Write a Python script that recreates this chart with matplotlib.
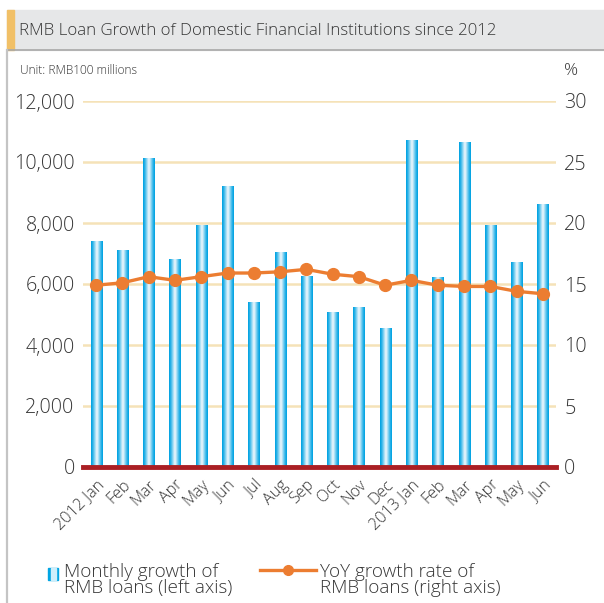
import numpy as np
import matplotlib.pyplot as plt
from matplotlib.patches import Rectangle
from matplotlib.lines import Line2D

plt.rcParams['font.family'] = ['Open Sans', 'DejaVu Sans']
plt.rcParams['font.weight'] = 'light'

months = ['2012 Jan', 'Feb', 'Mar', 'Apr', 'May', 'Jun', 'Jul', 'Aug', 'Sep',
          'Oct', 'Nov', 'Dec', '2013 Jan', 'Feb', 'Mar', 'Apr', 'May', 'Jun']
monthly_growth = [7381, 7107, 10114, 6818, 7932, 9198, 5401, 7039, 6232,
                  5056, 5229, 4543, 10721, 6200, 10625, 7929, 6694, 8605]
yoy_rate = [14.9, 15.1, 15.6, 15.3, 15.6, 15.9, 15.9, 16.0, 16.2,
            15.8, 15.6, 14.9, 15.3, 14.9, 14.8, 14.8, 14.4, 14.2]
left_ticks = [0, 2000, 4000, 6000, 8000, 10000, 12000]
right_ticks = [0, 5, 10, 15, 20, 25, 30]

TXT = '#363636'
W, H = 604, 603
fig = plt.figure(figsize=(W / 100, H / 100), dpi=100)

def fx(px):
    return px / W

def fy(py):
    return 1 - py / H

# header band with orange tab, and frame lines
fig.patches.append(Rectangle((fx(7), fy(50)), 1 - fx(7), fy(10) - fy(50),
                             transform=fig.transFigure, color='#e6e7e8', zorder=0))
fig.patches.append(Rectangle((fx(7), fy(50)), fx(7), fy(10) - fy(50),
                             transform=fig.transFigure, color='#f1c067', zorder=1))
fig.lines.append(Line2D([fx(7), 1], [fy(50), fy(50)], transform=fig.transFigure,
                        color='#a8a8a8', lw=1.2))
fig.lines.append(Line2D([fx(7), fx(7)], [fy(50), 0], transform=fig.transFigure,
                        color='#c4c4c4', lw=1.6))
fig.text(fx(19), fy(31), 'RMB Loan Growth of Domestic Financial Institutions since 2012',
         fontsize=12.2, color=TXT, va='center', ha='left')
fig.text(fx(20), fy(71), 'Unit: RMB100 millions', fontsize=8.6, color=TXT,
         va='center', ha='left')
fig.text(fx(564), fy(71), '%', fontsize=12.5, color=TXT, va='center', ha='left')

ax = fig.add_axes([fx(83), fy(467), fx(556) - fx(83), fy(101) - fy(467)])
ax2 = ax.twinx()

x = np.arange(len(months))
bars = ax.bar(x, monthly_growth, width=0.42, color='#00a5e3', zorder=2)

# white-centred blue gradient inside each bar
t = np.linspace(-1, 1, 64)
w = np.clip(1 - np.abs(t) ** 1.3, 0, 1) ** 1.6
blue = np.array([0.0, 0.64, 0.89])
white = np.array([0.93, 0.97, 0.99])
grad = (blue[None, :] * (1 - w[:, None]) + white[None, :] * w[:, None])[None, :, :]
for p in bars:
    x0, y0 = p.get_x(), p.get_y()
    ax.imshow(grad, extent=[x0, x0 + p.get_width(), y0, y0 + p.get_height()],
              aspect='auto', interpolation='bilinear', zorder=2.5)

ax.set_xlim(-0.5, len(months) - 0.5)
ax.set_ylim(0, 12000)
ax.set_yticks(left_ticks)
ax.set_yticklabels([f'{v:,}' for v in left_ticks])
for v in left_ticks[1:]:
    ax.axhline(v, color='#f5e2b8', lw=1.8, zorder=1)
ax.axhline(0, color='#aa1f24', lw=3.5, zorder=4, clip_on=False)

ax2.plot(x, yoy_rate, color='#ec7d31', lw=2.4, marker='o', markersize=8.5,
         zorder=5)
ax2.set_ylim(0, 30)
ax2.set_yticks(right_ticks)
ax2.set_xlim(-0.5, len(months) - 0.5)

ax.set_xticks(x)
ax.set_xticklabels(months, rotation=45, ha='right', rotation_mode='anchor')
for a in (ax, ax2):
    for s in a.spines.values():
        s.set_visible(False)
    a.tick_params(length=0, colors=TXT)
ax.tick_params(axis='y', labelsize=14.2, pad=6)
ax2.tick_params(axis='y', labelsize=14.2, pad=6)
ax.tick_params(axis='x', labelsize=11.6, pad=7)

# legend
fig.patches.append(Rectangle((fx(48), fy(580)), fx(10), fy(568) - fy(580),
                             transform=fig.transFigure, color='#00a5e3'))
fig.patches.append(Rectangle((fx(51), fy(580)), fx(5), fy(568) - fy(580),
                             transform=fig.transFigure, color='#cdeefb'))
fig.text(fx(64), fy(580), 'Monthly growth of\nRMB loans (left axis)', fontsize=13.6,
         color=TXT, va='center', ha='left', linespacing=0.85)
fig.lines.append(Line2D([fx(260), fx(316)], [fy(570), fy(570)], transform=fig.transFigure,
                        color='#ec7d31', lw=2.4))
fig.lines.append(Line2D([fx(288)], [fy(570)], transform=fig.transFigure, color='#ec7d31',
                        marker='o', markersize=7))
fig.text(fx(320), fy(580), 'YoY growth rate of\nRMB loans (right axis)', fontsize=13.6,
         color=TXT, va='center', ha='left', linespacing=0.85)

fig.savefig('out.png', dpi=100)
